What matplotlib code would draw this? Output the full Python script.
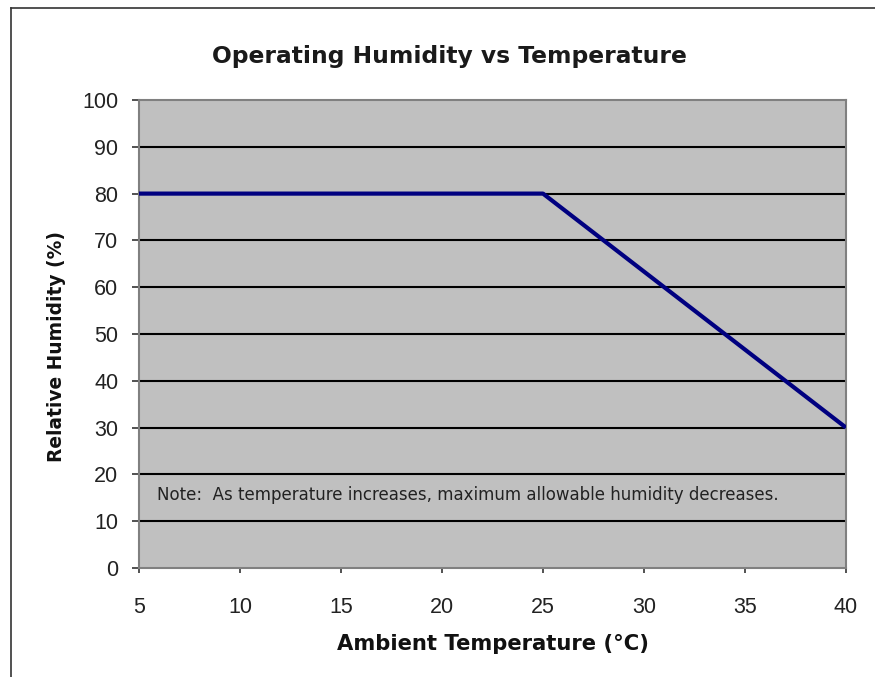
import matplotlib
matplotlib.use("Agg")
import matplotlib.pyplot as plt
from matplotlib.lines import Line2D

temperature = [5, 25, 40]
humidity = [80, 80, 30]
x_ticks = [5, 10, 15, 20, 25, 30, 35, 40]
y_ticks = [0, 10, 20, 30, 40, 50, 60, 70, 80, 90, 100]
title = "Operating Humidity vs Temperature"
xlabel = "Ambient Temperature (°C)"
ylabel = "Relative Humidity (%)"
note = "Note:  As temperature increases, maximum allowable humidity decreases."

plt.rcParams['font.family'] = ['Liberation Sans', 'DejaVu Sans']

W, H = 875, 677
fig = plt.figure(figsize=(8.75, 6.77), dpi=100)
ax = fig.add_axes([139/W, 1-568/H, (846-139)/W, (568-100)/H])
ax.set_facecolor('#c0c0c0')
ax.set_xlim(5, 40)
ax.set_ylim(0, 100)
ax.set_xticks(x_ticks)
ax.set_yticks(y_ticks)
for y in y_ticks[1:-1]:
    ax.axhline(y, color='black', lw=1.5, zorder=1)
ax.plot(temperature, humidity, color='#000080', lw=3, zorder=3, solid_capstyle='butt')
for s in ax.spines.values():
    s.set_color('#808080')
    s.set_linewidth(1.5)
ax.tick_params(axis='both', direction='out', width=1.2, color='#333333',
               labelsize=15.5, labelcolor='#222222')
ax.tick_params(axis='x', length=3.6, pad=17)
ax.tick_params(axis='y', length=5, pad=10)

fig.text(449/W, 1-63/H, title, ha='center', va='baseline', fontsize=16.8,
         fontweight='bold', family=['DejaVu Sans'], color='#1a1a1a')
fig.text(493/W, 1-650/H, xlabel, ha='center', va='baseline', fontsize=15.2,
         fontweight='bold', family=['DejaVu Sans'], color='#111111')
fig.text(56/W, 1-347/H, ylabel, ha='center', va='center', rotation=90, fontsize=13.4,
         fontweight='bold', family=['DejaVu Sans'], color='#111111')
fig.text(157/W, 1-500/H, note, ha='left', va='baseline', fontsize=12.0,
         family=['DejaVu Sans'], color='#222222')

# figure border (top and left)
fig.add_artist(Line2D([11/W, 1], [1-8/H, 1-8/H], color='#333333', lw=1.2, transform=fig.transFigure))
fig.add_artist(Line2D([11/W, 11/W], [0, 1-8/H], color='#333333', lw=1.2, transform=fig.transFigure))

fig.savefig('out.png', dpi=100)
